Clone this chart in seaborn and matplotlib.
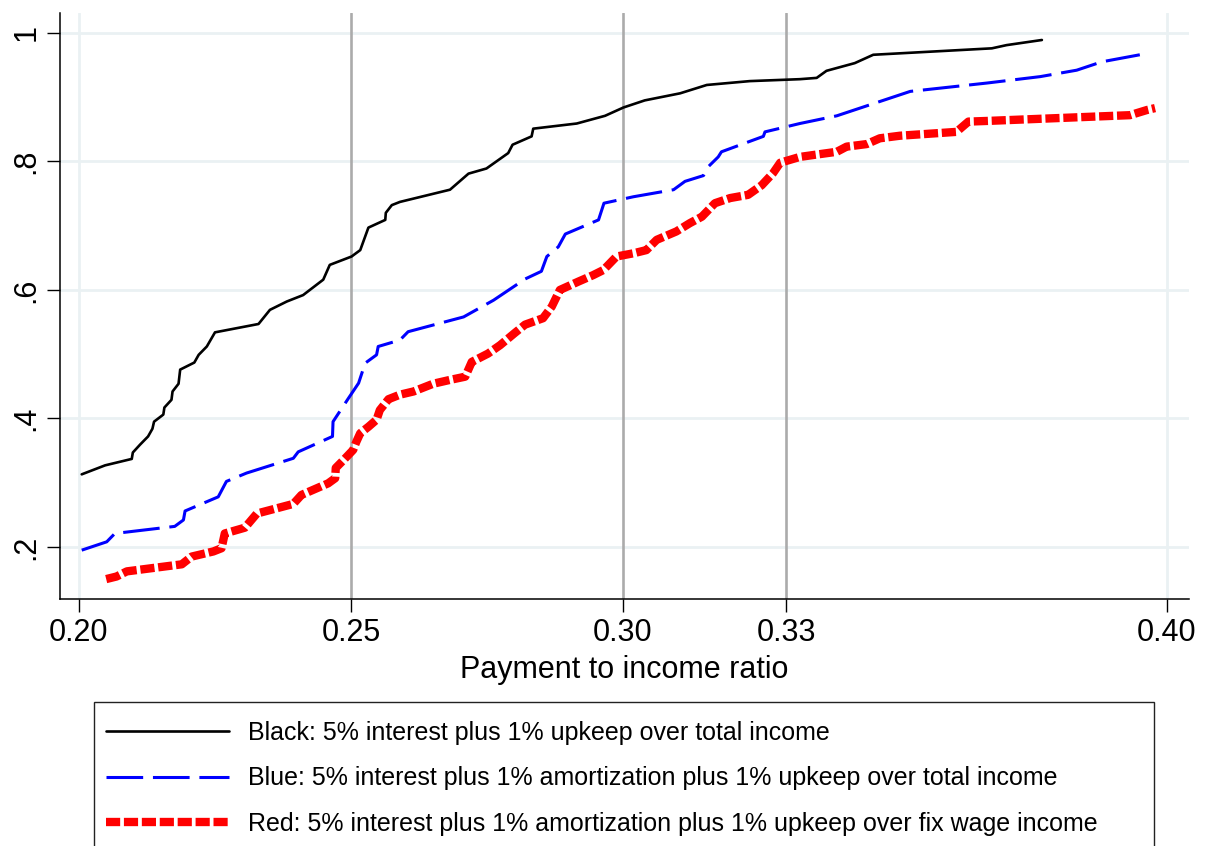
import matplotlib
matplotlib.use("Agg")
import matplotlib.pyplot as plt
from matplotlib.patches import Rectangle
import seaborn as sns
import pandas as pd

# ---- data ----
black_x = [0.2005, 0.2048, 0.2097, 0.2099, 0.2112, 0.2127, 0.2135, 0.2138, 0.2155, 0.2157,
           0.2170, 0.2172, 0.2183, 0.2186, 0.2212, 0.2220, 0.2235, 0.2250, 0.2330, 0.2351,
           0.2382, 0.2412, 0.2449, 0.2461, 0.2501, 0.2517, 0.2532, 0.2563, 0.2564, 0.2575,
           0.2590, 0.2682, 0.2716, 0.2749, 0.2789, 0.2797, 0.2832, 0.2835, 0.2915, 0.2967,
           0.3001, 0.3040, 0.3105, 0.3154, 0.3233, 0.3325, 0.3356, 0.3374, 0.3426, 0.3460,
           0.3678, 0.3705, 0.3770]
black_y = [0.313, 0.327, 0.337, 0.347, 0.359, 0.372, 0.384, 0.395, 0.406, 0.417,
           0.429, 0.442, 0.454, 0.476, 0.487, 0.499, 0.512, 0.534, 0.547, 0.569,
           0.582, 0.592, 0.616, 0.639, 0.652, 0.662, 0.697, 0.709, 0.720, 0.732,
           0.737, 0.756, 0.781, 0.789, 0.813, 0.826, 0.839, 0.851, 0.859, 0.871,
           0.884, 0.895, 0.906, 0.919, 0.925, 0.928, 0.930, 0.941, 0.953, 0.966,
           0.976, 0.981, 0.989]

blue_x = [0.2005, 0.2051, 0.2066, 0.2176, 0.2192, 0.2195, 0.2256, 0.2271, 0.2308, 0.2394,
          0.2403, 0.2466, 0.2467, 0.2495, 0.2514, 0.2526, 0.2547, 0.2550, 0.2590, 0.2605,
          0.2707, 0.2762, 0.2820, 0.2850, 0.2860, 0.2881, 0.2894, 0.2955, 0.2965, 0.3019,
          0.3093, 0.3114, 0.3148, 0.3157, 0.3175, 0.3181, 0.3258, 0.3261, 0.3325, 0.3393,
          0.3528, 0.3669, 0.3767, 0.3834, 0.3880, 0.3950]
blue_y = [0.195, 0.208, 0.221, 0.232, 0.242, 0.256, 0.278, 0.302, 0.315, 0.338,
          0.348, 0.372, 0.395, 0.431, 0.455, 0.486, 0.499, 0.512, 0.522, 0.535,
          0.558, 0.584, 0.617, 0.629, 0.652, 0.667, 0.687, 0.709, 0.735, 0.745,
          0.756, 0.769, 0.778, 0.792, 0.807, 0.815, 0.839, 0.846, 0.859, 0.871,
          0.909, 0.922, 0.932, 0.942, 0.955, 0.966]

red_x = [0.2050, 0.2069, 0.2088, 0.2189, 0.2207, 0.2247, 0.2262, 0.2268, 0.2305, 0.2327,
         0.2394, 0.2409, 0.2458, 0.2471, 0.2472, 0.2486, 0.2504, 0.2510, 0.2517, 0.2532,
         0.2547, 0.2553, 0.2569, 0.2590, 0.2615, 0.2651, 0.2682, 0.2710, 0.2722, 0.2752,
         0.2774, 0.2801, 0.2820, 0.2853, 0.2869, 0.2884, 0.2918, 0.2945, 0.2964, 0.2988,
         0.3019, 0.3043, 0.3062, 0.3098, 0.3123, 0.3145, 0.3169, 0.3197, 0.3230, 0.3255,
         0.3276, 0.3289, 0.3325, 0.3350, 0.3393, 0.3411, 0.3448, 0.3472, 0.3509, 0.3613,
         0.3635, 0.3669, 0.3932, 0.3963, 0.3978]
red_y = [0.150, 0.154, 0.162, 0.173, 0.185, 0.193, 0.198, 0.221, 0.230, 0.252,
         0.267, 0.281, 0.299, 0.307, 0.323, 0.335, 0.351, 0.364, 0.377, 0.387,
         0.398, 0.413, 0.430, 0.437, 0.442, 0.454, 0.460, 0.465, 0.488, 0.501,
         0.514, 0.533, 0.546, 0.556, 0.574, 0.600, 0.613, 0.623, 0.631, 0.652,
         0.657, 0.662, 0.678, 0.691, 0.704, 0.714, 0.735, 0.743, 0.748, 0.763,
         0.782, 0.798, 0.807, 0.810, 0.815, 0.823, 0.827, 0.836, 0.840, 0.846,
         0.862, 0.863, 0.872, 0.880, 0.883]

labels = ["Black: 5% interest plus 1% upkeep over total income",
          "Blue: 5% interest plus 1% amortization plus 1% upkeep over total income",
          "Red: 5% interest plus 1% amortization plus 1% upkeep over fix wage income"]

xticks = [0.20, 0.25, 0.30, 0.33, 0.40]
xtick_labels = ["0.20", "0.25", "0.30", "0.33", "0.40"]
ref_lines = [0.25, 0.30, 0.33]
yticks = [0.2, 0.4, 0.6, 0.8, 1.0]
ytick_labels = [".2", ".4", ".6", ".8", "1"]

# ---- style ----
sns.set_theme(style="white")
plt.rcParams["font.family"] = ["Liberation Sans", "DejaVu Sans"]
plt.rcParams["text.color"] = "black"
plt.rcParams["axes.labelcolor"] = "black"

fig = plt.figure(figsize=(12.11, 8.46), dpi=100)
ax = fig.add_axes([60 / 1211, 247 / 846, 1129 / 1211, 586 / 846])

grid_col = "#eaf1f3"
for yv in yticks:
    ax.axhline(yv, color=grid_col, lw=2.0, zorder=0)
for xv in [0.20, 0.40]:
    ax.axvline(xv, color=grid_col, lw=2.0, zorder=0)
for xv in ref_lines:
    ax.axvline(xv, color="#ababab", lw=1.9, zorder=1)

df_b = pd.DataFrame({"x": black_x, "y": black_y})
df_u = pd.DataFrame({"x": blue_x, "y": blue_y})
df_r = pd.DataFrame({"x": red_x, "y": red_y})

sns.lineplot(data=df_b, x="x", y="y", ax=ax, color="black", lw=1.9,
             estimator=None, sort=False, label=labels[0], zorder=3)
sns.lineplot(data=df_u, x="x", y="y", ax=ax, color="#0000ff", lw=2.2,
             estimator=None, sort=False, label=labels[1], zorder=3,
             linestyle=(0, (12.0, 3.2)))
sns.lineplot(data=df_r, x="x", y="y", ax=ax, color="#ff0000", lw=6.0,
             estimator=None, sort=False, label=labels[2], zorder=3,
             linestyle=(0, (1.7, 0.45)), solid_capstyle="butt", dash_capstyle="butt")

ax.set_xlim(0.19651, 0.40404)
ax.set_ylim(0.119, 1.031)
ax.set_xticks(xticks)
ax.set_xticklabels(xtick_labels)
ax.set_yticks(yticks)
ax.set_yticklabels(ytick_labels, rotation=90, va="center")
ax.tick_params(axis="both", direction="out", length=9.5, width=1.0, color="black",
               labelsize=22, labelcolor="black", pad=4, left=True, bottom=True)
ax.set_xlabel("Payment to income ratio", fontsize=22, labelpad=5, color="black")
ax.set_ylabel("")

for side in ["top", "right"]:
    ax.spines[side].set_visible(False)
for side in ["left", "bottom"]:
    ax.spines[side].set_color("black")
    ax.spines[side].set_linewidth(1.1)

handles, labs = ax.get_legend_handles_labels()
ax.get_legend().remove()
leg = fig.legend(handles, labs, loc="upper left", bbox_to_anchor=(106 / 1211, 1 - 721 / 846),
                 frameon=False, fontsize=18, handlelength=4.9, handletextpad=0.76,
                 labelspacing=0.85, borderpad=0, borderaxespad=0)
for t in leg.get_texts():
    t.set_color("black")

fig.patches.append(Rectangle((94 / 1211, -0.05), 1060 / 1211, 0.05 + 144 / 846,
                             transform=fig.transFigure, fill=False,
                             edgecolor="#222222", lw=1.0))

fig.savefig("out.png", dpi=100)
